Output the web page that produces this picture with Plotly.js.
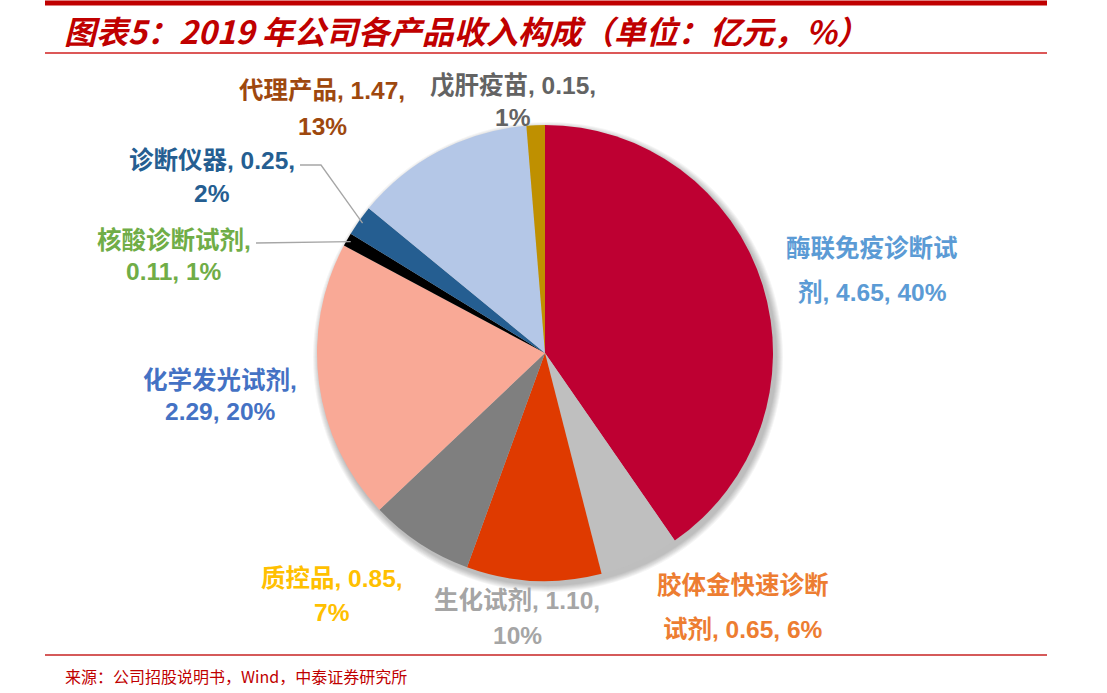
<!DOCTYPE html>
<html>
<head>
<meta charset="utf-8">
<script src="https://cdn.plot.ly/plotly-3.0.1.min.js"></script>
<style>
  html, body { margin: 0; padding: 0; background: #ffffff; }
  #chart { width: 1107px; height: 693px; }
</style>
</head>
<body>
<div id="chart"></div>
<script>
// ---- data ----
const categories = ["酶联免疫诊断试剂", "胶体金快速诊断试剂", "生化试剂", "质控品", "化学发光试剂", "核酸诊断试剂", "诊断仪器", "代理产品", "戊肝疫苗"];
const revenue = [4.65, 0.65, 1.10, 0.85, 2.29, 0.11, 0.25, 1.47, 0.15];
const sharePct = [40, 6, 10, 7, 20, 1, 2, 13, 1];
const sliceColors = ["#BE0032", "#BFBFBF", "#DF3A00", "#7F7F7F", "#F9A996", "#000000", "#255E91", "#B4C7E7", "#BF9000"];
const labelColors = ["#5B9BD5", "#ED7D31", "#A5A5A5", "#FFC000", "#4472C4", "#70AD47", "#255E91", "#9E480E", "#636363"];
const titleText = "图表5：2019 年公司各产品收入构成（单位：亿元，%）";
const sourceText = "来源：公司招股说明书，Wind，中泰证券研究所";

// ---- layout helpers (pixel geometry) ----
const W = 1107, H = 693;
const CX = 545, CY = 353, R = 228;
const px = x => x / W;
const py = y => 1 - y / H;

// line break rule per label: >0 = char index, -1 = after first comma, -2 = after second comma
const breakAt = [7, 7, -2, -2, -1, -1, -2, -2, -2];
const labelPos = [
  [872, 249, 292], [743, 585, 629], [517, 600, 635], [332, 578, 612],
  [220, 380, 411], [174, 241, 271], [212, 160, 193], [322, 91, 126], [513, 85, 118]
];

const FONT = "'Liberation Sans', Arial, 'Noto Sans CJK SC', sans-serif";
const annotations = [];
categories.forEach((c, i) => {
  const full = c + ", " + revenue[i].toFixed(2) + ", " + sharePct[i] + "%";
  let l1, l2;
  if (breakAt[i] > 0) {
    l1 = full.slice(0, breakAt[i]); l2 = full.slice(breakAt[i]);
  } else {
    let k = full.indexOf(", ");
    if (breakAt[i] === -2) k = full.indexOf(", ", k + 1);
    l1 = full.slice(0, k + 1); l2 = full.slice(k + 2);
  }
  const [lx, y1, y2] = labelPos[i];
  [[l1, y1], [l2, y2]].forEach(([t, y]) => {
    annotations.push({
      text: "<b>" + t + "</b>", xref: "paper", yref: "paper",
      x: px(lx), y: py(y), xanchor: "center", yanchor: "middle",
      showarrow: false, font: { family: FONT, size: 24.5, color: labelColors[i] }
    });
  });
});

// title and source
annotations.push({
  text: "<b><i>" + titleText + "</i></b>", xref: "paper", yref: "paper",
  x: px(62), y: py(30), xanchor: "left", yanchor: "middle", showarrow: false,
  font: { family: "'Liberation Sans Narrow', 'Noto Sans CJK SC', sans-serif", size: 32, color: "#C00000" }
});
annotations.push({
  text: sourceText, xref: "paper", yref: "paper",
  x: px(63), y: py(676), xanchor: "left", yanchor: "middle", showarrow: false,
  font: { family: "'Noto Sans CJK SC', sans-serif", size: 16, color: "#C00000" }
});

// leader lines for small slices (edge point computed from data)
const total = revenue.reduce((a, b) => a + b, 0);
function edgePoint(i, rr) {
  const before = revenue.slice(0, i).reduce((a, b) => a + b, 0);
  const ang = (before + revenue[i] / 2) / total * 2 * Math.PI;
  return [CX + rr * Math.sin(ang), CY - rr * Math.cos(ang)];
}
const shapes = [];
// soft shadow behind the pie
for (let k = 7; k >= 1; k--) {
  shapes.push({
    type: "circle", xref: "paper", yref: "paper", layer: "below",
    x0: px(CX + 3 - R - k), x1: px(CX + 3 + R + k), y0: py(CY + 4 + R + k), y1: py(CY + 4 - R - k),
    fillcolor: "rgba(0,0,0,0.04)", line: { width: 0 }
  });
}
const dgPt = edgePoint(6, R - 4);
shapes.push({ type: "path", xref: "paper", yref: "paper",
  path: `M ${px(300)} ${py(165)} L ${px(321)} ${py(165)} L ${px(dgPt[0])} ${py(dgPt[1])}`,
  line: { color: "#A6A6A6", width: 1.3 } });
const hsPt = edgePoint(5, R - 4);
shapes.push({ type: "path", xref: "paper", yref: "paper",
  path: `M ${px(256)} ${py(243)} L ${px(hsPt[0])} ${py(hsPt[1])}`,
  line: { color: "#A6A6A6", width: 1.3 } });
// red rules
shapes.push({ type: "line", xref: "paper", yref: "paper", x0: px(45), x1: px(1047), y0: py(3), y1: py(3), line: { color: "#C00000", width: 5 } });
shapes.push({ type: "line", xref: "paper", yref: "paper", x0: px(45), x1: px(1047), y0: py(53), y1: py(53), line: { color: "#D02020", width: 1.5 } });
shapes.push({ type: "line", xref: "paper", yref: "paper", x0: px(45), x1: px(1047), y0: py(655), y1: py(655), line: { color: "#D55A5A", width: 2 } });

const trace = {
  type: "pie",
  labels: categories,
  values: revenue,
  sort: false,
  direction: "clockwise",
  rotation: 0,
  textinfo: "none",
  hoverinfo: "label+value+percent",
  marker: { colors: sliceColors, line: { width: 0 } },
  domain: { x: [px(CX - R), px(CX + R)], y: [py(CY + R), py(CY - R)] },
  showlegend: false
};

const layout = {
  width: W, height: H,
  margin: { l: 0, r: 0, t: 0, b: 0 },
  paper_bgcolor: "#ffffff",
  showlegend: false,
  annotations: annotations,
  shapes: shapes
};

Plotly.newPlot("chart", [trace], layout, { displayModeBar: false, staticPlot: true });
</script>
</body>
</html>
